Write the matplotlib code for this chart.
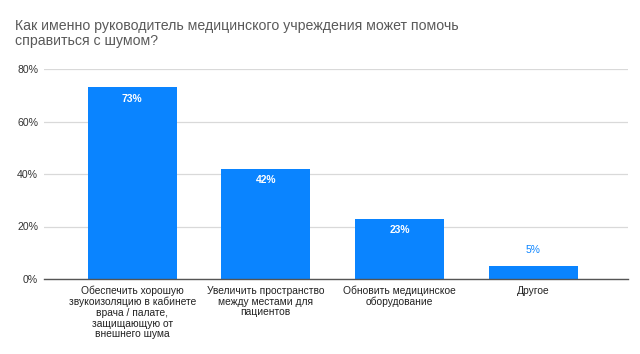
import matplotlib
matplotlib.use("Agg")
import matplotlib.pyplot as plt
from matplotlib.ticker import FuncFormatter

plt.rcParams['font.family'] = ['Liberation Sans', 'DejaVu Sans']

categories = [
    "Обеспечить хорошую\nзвукоизоляцию в кабинете\nврача / палате,\nзащищающую от\nвнешнего шума",
    "Увеличить пространство\nмежду местами для\nпациентов",
    "Обновить медицинское\nоборудование",
    "Другое",
]
values = [73, 42, 23, 5]
labels = ["73%", "42%", "23%", "5%"]
yticks = [0, 20, 40, 60, 80]

fig = plt.figure(figsize=(6.4, 3.54), dpi=100)
ax = fig.add_axes([44/640, 1-279/354, (628-44)/640, (279-69)/354])

color = "#0a84ff"
x = list(range(len(categories)))
bars = ax.bar(x, values, width=0.665, color=color, zorder=3)

for xi, v, lab in zip(x, values, labels):
    if v > 10:
        ax.text(xi, v - 2.4, lab, ha='center', va='top', color='white',
                fontsize=7.4, fontweight='bold')
    else:
        ax.text(xi, v + 4.0, lab, ha='center', va='bottom', color=color,
                fontsize=7.4)

ax.set_xlim(-0.66, 3.71)
ax.set_ylim(0, 80)
ax.set_yticks(yticks)
ax.yaxis.set_major_formatter(FuncFormatter(lambda v, p: f"{int(v)}%"))
ax.tick_params(axis='y', length=0, labelsize=7.6, colors='#333333', pad=4.3)
ax.set_xticks(x)
ax.set_xticklabels(categories, fontsize=7.4, color='#222222', linespacing=1.07)
ax.tick_params(axis='x', length=0, pad=5)
ax.grid(axis='y', color='#d9d9d9', linewidth=0.9, zorder=0)
for s in ['top', 'right', 'left']:
    ax.spines[s].set_visible(False)
ax.spines['bottom'].set_color('#555555')
ax.spines['bottom'].set_linewidth(1.0)
ax.spines['bottom'].set_zorder(4)

fig.text(15/640, 1-19/354, "Как именно руководитель медицинского учреждения может помочь\nсправиться с шумом?",
         ha='left', va='top', fontsize=10.2, color='#595959', linespacing=1.12)

fig.savefig("out.png", dpi=100)
